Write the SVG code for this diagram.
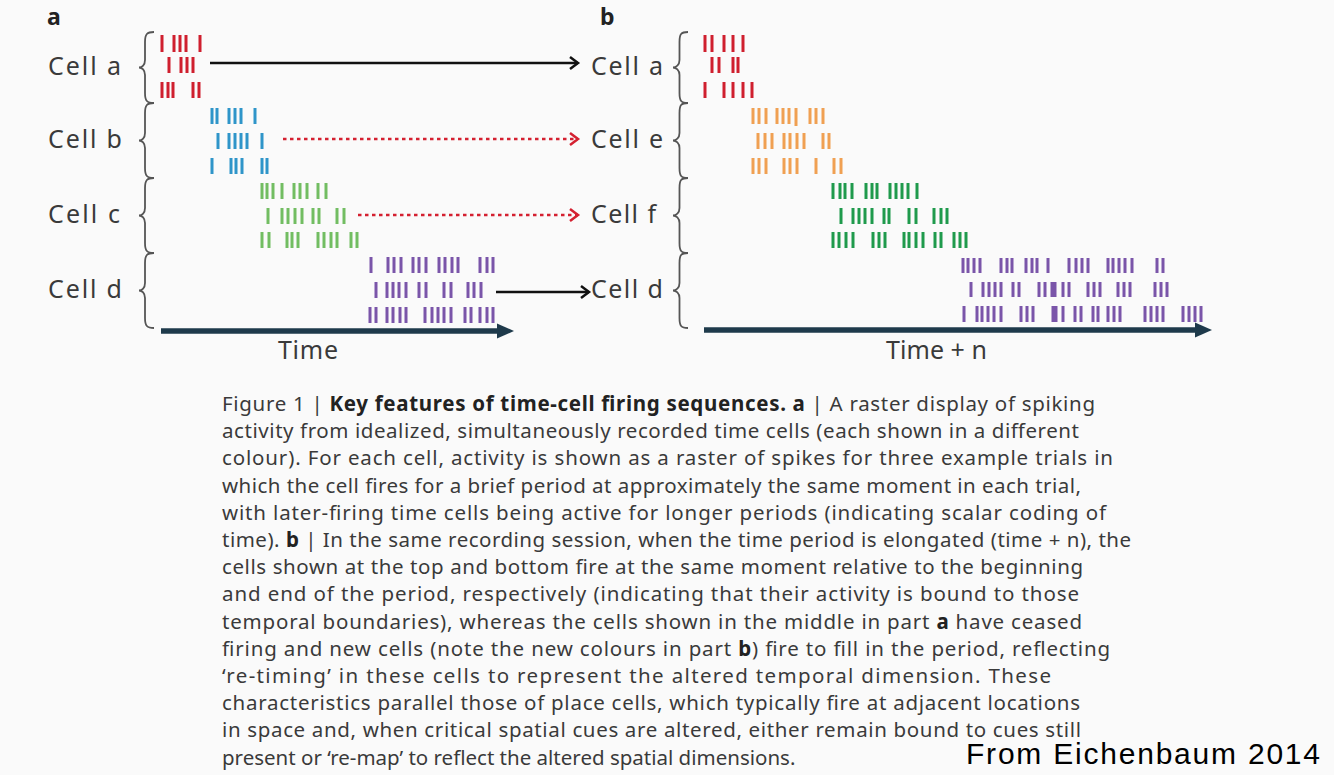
<svg xmlns="http://www.w3.org/2000/svg" width="1334" height="775" viewBox="0 0 1334 775">
<style>
.lbl{font-family:"Noto Sans","Open Sans","DejaVu Sans",sans-serif;font-size:25px;fill:#3a3a3a}
.pl{font-family:"Noto Sans","Open Sans",sans-serif;font-size:23px;font-weight:bold;fill:#222}
.cap{font-family:"Noto Sans","Open Sans",sans-serif;font-size:20.5px;fill:#3a3a3a}
.cap .b{font-weight:bold;fill:#222}
.br{fill:none;stroke:#555;stroke-width:1.8}
.sp{fill:none;stroke-width:3}
.red{stroke:#cf1f2e}.blue{stroke:#2f95c9}.lg{stroke:#72bd62}.pu{stroke:#7a55a9}.or{stroke:#f0a052}.dg{stroke:#1f9a4c}
.solid{fill:none;stroke:#111;stroke-width:2.5}
.dot{fill:none;stroke:#d42030;stroke-width:2.5;stroke-dasharray:3.5 3.5}
.axis{stroke:#1e3a4b;stroke-width:5.5}
.axh{fill:#1e3a4b}
</style>
<defs>
<marker id="mk" markerUnits="userSpaceOnUse" markerWidth="12" markerHeight="14" refX="9" refY="7" orient="auto"><path d="M1,1 L9,7 L1,13" fill="none" stroke="#111" stroke-width="2.5"/></marker>
<marker id="mr" markerUnits="userSpaceOnUse" markerWidth="12" markerHeight="14" refX="9" refY="7" orient="auto"><path d="M1,1 L9,7 L1,13" fill="none" stroke="#d42030" stroke-width="2.5"/></marker>
</defs>
<rect width="1334" height="775" fill="#fafafa"/>

<text class="pl" x="47" y="25">a</text>
<text class="pl" x="600" y="25">b</text>

<!-- panel a nodes -->
<g id="a-cell-a">
<text class="lbl" x="48" y="75" textLength="73" lengthAdjust="spacing">Cell a</text>
<path class="br" d="M154,32 C147,32 145,34 145,42 L145,60 C145,65 142,67.5 139,67.5 C142,67.5 145,70 145,75 L145,93 C145,101 147,103 154,103"/>
<path class="sp red" d="M162,35v17M174,35v17M180,35v17M186,35v17M200,35v17 M169,57v16M181,57v16M187,57v16M193,57v16 M162,82v16M168,82v16M173,82v16M193,82v16M199,82v16"/>
</g>
<g id="a-cell-b">
<text class="lbl" x="48" y="148" textLength="74" lengthAdjust="spacing">Cell b</text>
<path class="br" d="M154,103 C147,103 145,105 145,113 L145,133 C145,138 142,140.5 139,140.5 C142,140.5 145,143 145,148 L145,168 C145,176 147,178 154,178"/>
<path class="sp blue" d="M212,108v16M217,108v16M229,108v16M235,108v16M241,108v16M255,108v16 M218,133v16M229,133v16M235,133v16M241,133v16M247,133v16M262,133v16 M212,158v16M231,158v16M236,158v16M242,158v16M262,158v16M267,158v16"/>
</g>
<g id="a-cell-c">
<text class="lbl" x="48" y="223" textLength="72" lengthAdjust="spacing">Cell c</text>
<path class="br" d="M154,178 C147,178 145,180 145,188 L145,208 C145,213 142,215.5 139,215.5 C142,215.5 145,218 145,223 L145,243 C145,251 147,253 154,253"/>
<path class="sp lg" d="M262,183v16M267,183v16M273,183v16M282,183v16M294,183v16M300,183v16M307,183v16M318,183v16M326,183v16 M268,208v16M282,208v16M288,208v16M295,208v16M302,208v16M313,208v16M319,208v16M337,208v16M344,208v16 M262,232v16M269,232v16M287,232v16M292,232v16M298,232v16M318,232v16M324,232v16M331,232v16M337,232v16M351,232v16M357,232v16"/>
</g>
<g id="a-cell-d">
<text class="lbl" x="48" y="298" textLength="74" lengthAdjust="spacing">Cell d</text>
<path class="br" d="M154,253 C147,253 145,255 145,263 L145,283 C145,288 142,290.5 139,290.5 C142,290.5 145,293 145,298 L145,318 C145,326 147,328 154,328"/>
<path class="sp pu" d="M371,257v16M388,257v16M394,257v16M401,257v16M413,257v16M419,257v16M426,257v16M439,257v16M445,257v16M452,257v16M458,257v16M480,257v16M487,257v16M493,257v16 M376,282v16M387,282v16M393,282v16M399,282v16M406,282v16M419,282v16M426,282v16M444,282v16M451,282v16M468,282v16M474,282v16M481,282v16 M370,307v16M376,307v16M387,307v16M393,307v16M400,307v16M406,307v16M425,307v16M432,307v16M438,307v16M444,307v16M451,307v16M465,307v16M471,307v16M480,307v16M487,307v16M493,307v16"/>
</g>
<g id="a-axis">
<line class="axis" x1="161" y1="331" x2="500" y2="331"/>
<polygon class="axh" points="497,323.5 514,331 497,338.5"/>
<text class="lbl" x="308" y="359" text-anchor="middle" textLength="60" lengthAdjust="spacing">Time</text>
</g>

<!-- panel b nodes -->
<g id="b-cell-a">
<text class="lbl" x="591" y="75" textLength="72" lengthAdjust="spacing">Cell a</text>
<path class="br" d="M688,32 C681,32 679.5,34 679.5,42 L679.5,60 C679.5,65 676,67.5 673,67.5 C676,67.5 679.5,70 679.5,75 L679.5,93 C679.5,101 681,103 688,103"/>
<path class="sp red" d="M705,35v17M712,35v17M724,35v17M733,35v17M743,35v17 M712,57v16M719,57v16M733,57v16M738,57v16 M705,82v16M724,82v16M733,82v16M743,82v16M752,82v16"/>
</g>
<g id="b-cell-e">
<text class="lbl" x="591" y="148" textLength="72" lengthAdjust="spacing">Cell e</text>
<path class="br" d="M688,103 C681,103 679.5,105 679.5,113 L679.5,133 C679.5,138 676,140.5 673,140.5 C676,140.5 679.5,143 679.5,148 L679.5,168 C679.5,176 681,178 688,178"/>
<path class="sp or" d="M753,108v16M759,108v16M766,108v16M777,108v16M783,108v16M789,108v16M796,108v18M810,108v16M816,108v16M823,108v16 M758,133v16M765,133v16M772,133v16M784,133v16M790,133v16M797,133v16M804,133v16M823,133v16M829,133v16 M753,158v16M759,158v16M766,158v16M784,158v16M790,158v16M797,158v16M816,158v16M834,158v16M841,158v16"/>
</g>
<g id="b-cell-f">
<text class="lbl" x="591" y="223" textLength="65" lengthAdjust="spacing">Cell f</text>
<path class="br" d="M688,178 C681,178 679.5,180 679.5,188 L679.5,208 C679.5,213 676,215.5 673,215.5 C676,215.5 679.5,218 679.5,223 L679.5,243 C679.5,251 681,253 688,253"/>
<path class="sp dg" d="M833,183v16M840,183v16M845,183v16M852,183v16M866,183v16M872,183v16M877,183v16M890,183v16M896,183v16M902,183v16M908,183v16M917,183v16 M841,208v16M853,208v16M859,208v16M865,208v16M872,208v16M884,208v16M889,208v16M909,208v16M916,208v16M934,208v16M941,208v16M947,208v16 M833,232v16M839,232v16M846,232v16M853,232v16M873,232v16M879,232v16M885,232v16M904,232v16M909,232v16M916,232v16M923,232v16M935,232v16M941,232v16M954,232v16M960,232v16M966,232v16"/>
</g>
<g id="b-cell-d">
<text class="lbl" x="591" y="298" textLength="72" lengthAdjust="spacing">Cell d</text>
<path class="br" d="M688,253 C681,253 679.5,255 679.5,263 L679.5,283 C679.5,288 676,290.5 673,290.5 C676,290.5 679.5,293 679.5,298 L679.5,318 C679.5,326 681,328 688,328"/>
<path class="sp pu" d="M963,258v15M968,258v15M974,258v15M980,258v15M1001,258v15M1007,258v15M1012,258v15M1026,258v15M1032,258v15M1037,258v15M1048,258v15M1069,258v15M1076,258v15M1082,258v15M1088,258v15M1108,258v15M1113,258v15M1119,258v15M1125,258v15M1132,258v15M1157,258v15M1163,258v15 M971,282v15M983,282v15M989,282v15M995,282v15M1001,282v15M1013,282v15M1019,282v15M1039,282v15M1045,282v15M1052,282v15M1055,282v15M1063,282v15M1069,282v15M1088,282v15M1094,282v15M1100,282v15M1118,282v15M1124,282v15M1130,282v15M1155,282v15M1161,282v15M1167,282v15 M964,306v16M977,306v16M982,306v16M988,306v16M994,306v16M1001,306v16M1021,306v16M1027,306v16M1033,306v16M1053,306v16M1056,306v16M1063,306v16M1075,306v16M1081,306v16M1093,306v16M1098,306v16M1108,306v16M1114,306v16M1120,306v16M1145,306v16M1151,306v16M1157,306v16M1163,306v16M1183,306v16M1189,306v16M1195,306v16M1201,306v16"/>
</g>
<g id="b-axis">
<line class="axis" x1="704" y1="330" x2="1198" y2="330"/>
<polygon class="axh" points="1195,322.5 1212,330 1195,337.5"/>
<text class="lbl" x="936.5" y="359" text-anchor="middle" textLength="101" lengthAdjust="spacing">Time + n</text>
</g>

<!-- connectors -->
<g id="connectors">
<path class="solid" d="M210,63 H578" marker-end="url(#mk)"/>
<path class="dot" d="M283,139 H578" marker-end="url(#mr)"/>
<path class="dot" d="M358,215 H578" marker-end="url(#mr)"/>
<path class="solid" d="M496,292 H589" marker-end="url(#mk)"/>
</g>

<!-- caption -->
<g id="caption" class="cap">
<text x="222" y="411" textLength="873" lengthAdjust="spacing">Figure 1 | <tspan class="b">Key features of time-cell firing sequences.</tspan>  <tspan class="b">a</tspan> | A raster display of spiking</text>
<text x="222" y="438.2" textLength="857" lengthAdjust="spacing">activity from idealized, simultaneously recorded time cells (each shown in a different</text>
<text x="222" y="465.4" textLength="891" lengthAdjust="spacing">colour). For each cell, activity is shown as a raster of spikes for three example trials in</text>
<text x="222" y="492.6" textLength="859" lengthAdjust="spacing">which the cell fires for a brief period at approximately the same moment in each trial,</text>
<text x="222" y="519.8" textLength="884" lengthAdjust="spacing">with later-firing time cells being active for longer periods (indicating scalar coding of</text>
<text x="222" y="547" textLength="909" lengthAdjust="spacing">time). <tspan class="b">b</tspan> | In the same recording session, when the time period is elongated (time + n), the</text>
<text x="222" y="574.2" textLength="861" lengthAdjust="spacing">cells shown at the top and bottom fire at the same moment relative to the beginning</text>
<text x="222" y="601.4" textLength="857" lengthAdjust="spacing">and end of the period, respectively (indicating that their activity is bound to those</text>
<text x="222" y="628.6" textLength="860" lengthAdjust="spacing">temporal boundaries), whereas the cells shown in the middle in part <tspan class="b">a</tspan> have ceased</text>
<text x="222" y="655.8" textLength="888" lengthAdjust="spacing">firing and new cells (note the new colours in part <tspan class="b">b</tspan>) fire to fill in the period, reflecting</text>
<text x="222" y="683" textLength="829" lengthAdjust="spacing">‘re-timing’ in these cells to represent the altered temporal dimension. These</text>
<text x="222" y="710.2" textLength="858" lengthAdjust="spacing">characteristics parallel those of place cells, which typically fire at adjacent locations</text>
<text x="222" y="737.4" textLength="859" lengthAdjust="spacing">in space and, when critical spatial cues are altered, either remain bound to cues still</text>
<text x="222" y="764.6">present or ‘re-map’ to reflect the altered spatial dimensions.</text>
</g>

<text x="966" y="764" font-family="'Liberation Sans',Arial,sans-serif" font-size="30" fill="#000" textLength="354" lengthAdjust="spacing">From Eichenbaum 2014</text>
</svg>
